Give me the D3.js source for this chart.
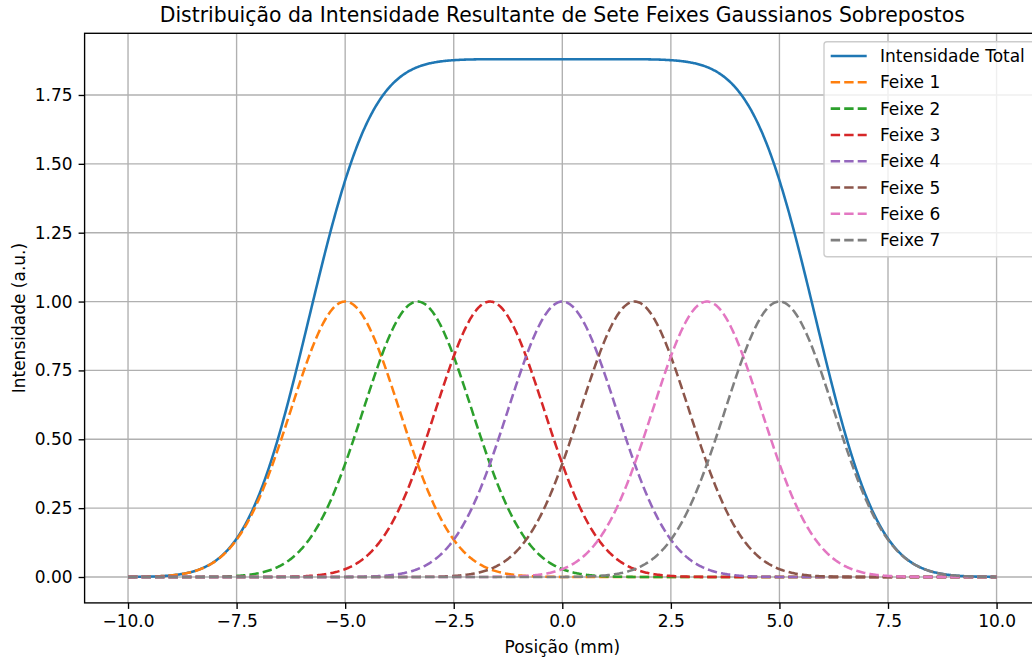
<!DOCTYPE html>
<html>
<head>
<meta charset="utf-8">
<script src="https://cdn.jsdelivr.net/npm/d3@7"></script>
<style>
  html, body { margin: 0; padding: 0; background: #ffffff; }
  svg { display: block; font-family: "DejaVu Sans", sans-serif; }
</style>
</head>
<body>
<svg id="chart" width="1032" height="662"></svg>
<script>
// ---- Data ----
const beamLabels  = ["Feixe 1", "Feixe 2", "Feixe 3", "Feixe 4", "Feixe 5", "Feixe 6", "Feixe 7"];
const beamCenters = [-5, -3.333, -1.667, 0, 1.667, 3.333, 5];   // mm
const beamPeaks   = [1, 1, 1, 1, 1, 1, 1];                        // a.u.
const beamSigmas  = [1.25, 1.25, 1.25, 1.25, 1.25, 1.25, 1.25];   // mm
const positionRange = [-10, 10];                                  // mm
const sampleCount = 1000;
const totalLabel = "Intensidade Total";
const xTicks = [-10, -7.5, -5, -2.5, 0, 2.5, 5, 7.5, 10];
const yTicks = [0, 0.25, 0.5, 0.75, 1.0, 1.25, 1.5, 1.75];
const colors = ["#1f77b4", "#ff7f0e", "#2ca02c", "#d62728", "#9467bd", "#8c564b", "#e377c2", "#7f7f7f"];

// ---- Build series ----
const xs = d3.range(sampleCount).map(i => positionRange[0] + (positionRange[1] - positionRange[0]) * i / (sampleCount - 1));
const beams = beamCenters.map((c, k) => xs.map(x => ({x, y: beamPeaks[k] * Math.exp(-((x - c) ** 2) / (2 * beamSigmas[k] ** 2))})));
const total = xs.map((x, i) => ({x, y: d3.sum(beams, b => b[i].y)}));

// ---- Layout ----
const svg = d3.select("#chart");
const L = 84.6, R = 1040, T = 33.3, B = 602.9;
const yMax = d3.max(total, d => d.y), yMin = 0;
const yPad = (yMax - yMin) * 0.05;
const xPad = (positionRange[1] - positionRange[0]) * 0.05;
const x = d3.scaleLinear().domain([positionRange[0] - xPad, positionRange[1] + xPad]).range([L, R]);
const y = d3.scaleLinear().domain([yMin - yPad, yMax + yPad]).range([B, T]);

const fmtX = v => (v < 0 ? "\u2212" : "") + Math.abs(v).toFixed(1);
const fmtY = v => v.toFixed(2);
const LW = 2.55, GW = 1.36, DASH = "9.4,4.1";

// Grid
const grid = svg.append("g");
grid.selectAll("line.gx").data(xTicks).join("line")
  .attr("x1", d => x(d)).attr("x2", d => x(d)).attr("y1", T).attr("y2", B)
  .attr("stroke", "#b0b0b0").attr("stroke-width", GW);
grid.selectAll("line.gy").data(yTicks).join("line")
  .attr("x1", L).attr("x2", R).attr("y1", d => y(d)).attr("y2", d => y(d))
  .attr("stroke", "#b0b0b0").attr("stroke-width", GW);

// Lines
const line = d3.line().x(d => x(d.x)).y(d => y(d.y));
svg.append("path").datum(total).attr("d", line)
  .attr("fill", "none").attr("stroke", colors[0]).attr("stroke-width", LW);
beams.forEach((b, k) => {
  svg.append("path").datum(b).attr("d", line)
    .attr("fill", "none").attr("stroke", colors[k + 1]).attr("stroke-width", LW)
    .attr("stroke-dasharray", DASH);
});

// Axes
const xAxis = d3.axisBottom(x).tickValues(xTicks).tickFormat(fmtX).tickSize(6).tickPadding(6);
const yAxis = d3.axisLeft(y).tickValues(yTicks).tickFormat(fmtY).tickSize(6).tickPadding(6);
const gx = svg.append("g").attr("transform", `translate(0,${B})`).call(xAxis);
const gy = svg.append("g").attr("transform", `translate(${L},0)`).call(yAxis);
[gx, gy].forEach(g => {
  g.select(".domain").remove();
  g.selectAll(".tick line").attr("stroke", "#000").attr("stroke-width", GW);
  g.selectAll(".tick text").attr("fill", "#000").attr("font-size", 17).attr("font-family", "DejaVu Sans");
});

// Spines
svg.append("rect").attr("x", L).attr("y", T).attr("width", R - L).attr("height", B - T)
  .attr("fill", "none").attr("stroke", "#000").attr("stroke-width", GW);

// Title & labels
svg.append("text").attr("x", (L + R) / 2).attr("y", 22).attr("text-anchor", "middle")
  .attr("font-size", 20.4).attr("fill", "#000")
  .text("Distribuição da Intensidade Resultante de Sete Feixes Gaussianos Sobrepostos");
svg.append("text").attr("x", (L + R) / 2).attr("y", 653).attr("text-anchor", "middle")
  .attr("font-size", 17).attr("fill", "#000").text("Posição (mm)");
svg.append("text").attr("transform", `translate(25,${(T + B) / 2}) rotate(-90)`).attr("text-anchor", "middle")
  .attr("font-size", 17).attr("fill", "#000").text("Intensidade (a.u.)");

// Legend
const leg = svg.append("g");
leg.append("rect").attr("x", 824).attr("y", 41.7).attr("width", 215).attr("height", 215)
  .attr("rx", 3).attr("fill", "#ffffff").attr("fill-opacity", 0.8)
  .attr("stroke", "#cccccc").attr("stroke-width", GW);
const legItems = [{label: totalLabel, color: colors[0], dash: null}]
  .concat(beamLabels.map((l, k) => ({label: l, color: colors[k + 1], dash: DASH})));
legItems.forEach((it, i) => {
  const cy = 56 + i * 26.3;
  leg.append("line").attr("x1", 830.7).attr("x2", 866.7).attr("y1", cy).attr("y2", cy)
    .attr("stroke", it.color).attr("stroke-width", LW)
    .attr("stroke-dasharray", it.dash);
  leg.append("text").attr("x", 880).attr("y", cy + 6).attr("font-size", 17).attr("fill", "#000").text(it.label);
});
</script>
</body>
</html>
